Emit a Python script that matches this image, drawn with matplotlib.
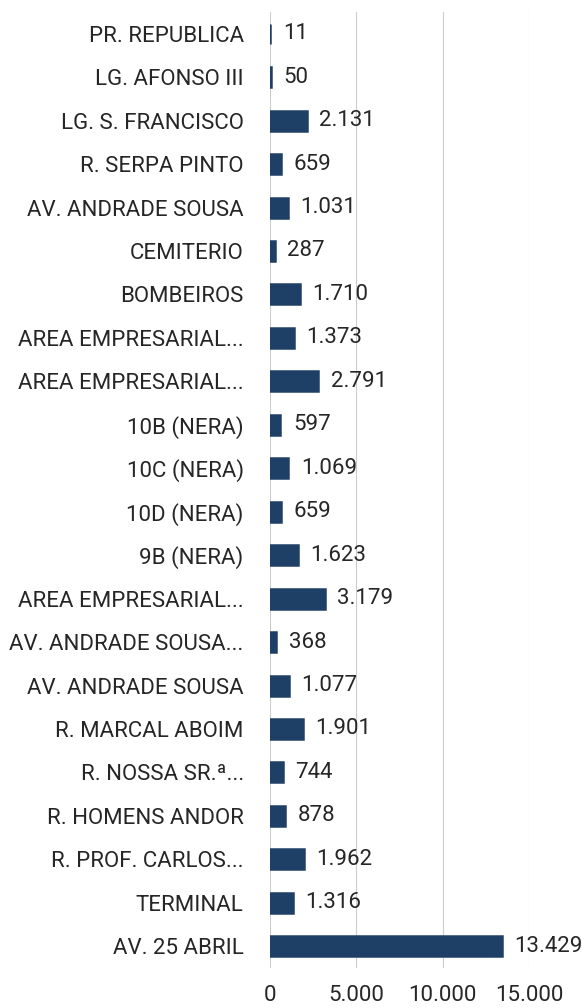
import matplotlib.pyplot as plt
from matplotlib.ticker import FuncFormatter

# paragens e nº de passageiros
paragens = [
    'PR. REPUBLICA', 'LG. AFONSO III', 'LG. S. FRANCISCO', 'R. SERPA PINTO',
    'AV. ANDRADE SOUSA', 'CEMITERIO', 'BOMBEIROS', 'AREA EMPRESARIAL...',
    'AREA EMPRESARIAL...', '10B (NERA)', '10C (NERA)', '10D (NERA)',
    '9B (NERA)', 'AREA EMPRESARIAL...', 'AV. ANDRADE SOUSA...',
    'AV. ANDRADE SOUSA', 'R. MARCAL ABOIM', 'R. NOSSA SR.ª...',
    'R. HOMENS ANDOR', 'R. PROF. CARLOS...', 'TERMINAL', 'AV. 25 ABRIL',
]
passageiros = [11, 50, 2131, 659, 1031, 287, 1710, 1373, 2791, 597, 1069, 659,
               1623, 3179, 368, 1077, 1901, 744, 878, 1962, 1316, 13429]
xticks = [0, 5000, 10000, 15000]

cor_barra = '#1e3f66'
cor_texto = '#262626'

plt.rcParams['font.family'] = ['Roboto', 'DejaVu Sans']


def fmt_pt(v):
    # separador de milhares com ponto
    return f'{int(v):,}'.replace(',', '.')


fig = plt.figure(figsize=(5.87, 10.08), dpi=100)
ax = fig.add_axes([0.46, 0.0397, 0.441, 0.9484])

y = list(range(len(paragens)))
barras = ax.barh(y, passageiros, height=0.46, color=cor_barra,
                 edgecolor=cor_barra, linewidth=1.8)

for b, v in zip(barras, passageiros):
    ax.annotate(fmt_pt(v), (b.get_width(), b.get_y() + b.get_height() / 2),
                xytext=(9, 0), textcoords='offset points', va='center',
                ha='left', fontsize=16, color=cor_texto, annotation_clip=False)

ax.set_yticks(y)
ax.set_yticklabels(paragens)
ax.set_ylim(len(paragens) - 0.5, -0.5)
ax.set_xlim(0, 15000)
ax.set_xticks(xticks)
ax.xaxis.set_major_formatter(FuncFormatter(lambda v, p: fmt_pt(v)))

ax.tick_params(axis='both', length=0, labelsize=16, labelcolor=cor_texto)
ax.tick_params(axis='x', pad=12)
ax.tick_params(axis='y', pad=19)
ax.grid(axis='x', color='#cccccc', linewidth=0.8)
ax.set_axisbelow(True)
for s in ax.spines.values():
    s.set_visible(False)

fig.savefig('out.png', dpi=100)
